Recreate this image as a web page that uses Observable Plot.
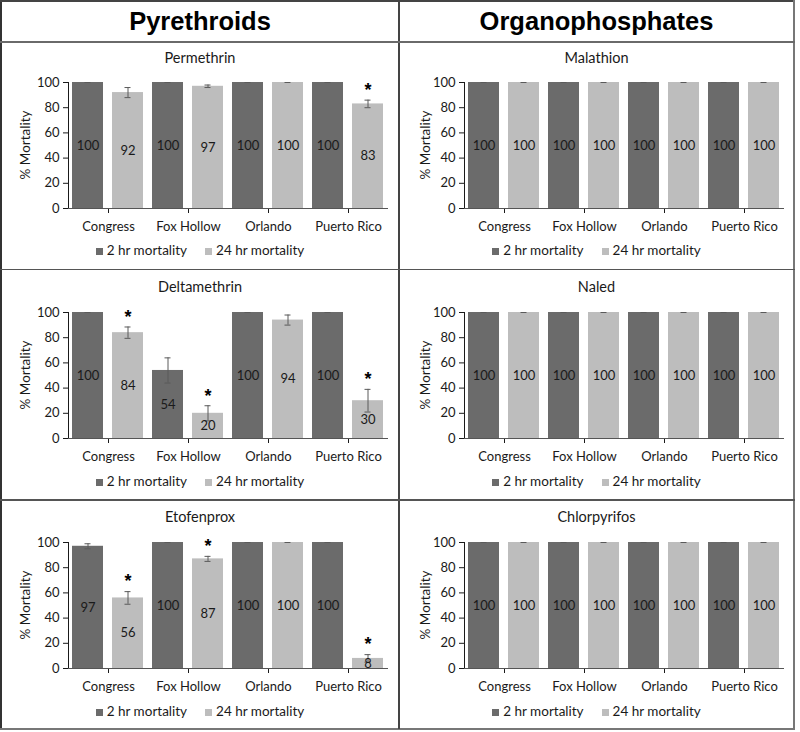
<!DOCTYPE html>
<html>
<head>
<meta charset="utf-8">
<script src="https://cdn.jsdelivr.net/npm/d3@7"></script>
<script src="https://cdn.jsdelivr.net/npm/@observablehq/plot@0.6"></script>
<style>
  body { margin: 0; background: #fff; font-family: Lato, "Noto Sans", sans-serif; }
  #page { position: absolute; left: 0; top: 0; width: 800px; height: 732px; overflow: hidden; }
  .hline, .vline { position: absolute; background: #555; }
  .header { position: absolute; top: 1px; height: 40px; display: flex; align-items: center; justify-content: center;
            font: bold 25.5px "Liberation Sans", Arial, sans-serif; color: #000; }
  .panel { position: absolute; }
  .ptitle { position: absolute; left: 0; right: 0; text-align: center; font-size: 14.5px; line-height: 20px; color: #1a1a1a; }
  .plot { position: absolute; left: 0; }
  .ylabel { position: absolute; white-space: nowrap; font-size: 13.5px; line-height: 15px; color: #1a1a1a;
            transform: translate(-50%, -50%) rotate(-90deg); }
  .legend { position: absolute; left: 0; right: 0; text-align: center; font-size: 13.5px; line-height: 18px; color: #1a1a1a; }
  .legend .sw { display: inline-block; width: 7px; height: 7px; margin-right: 4px; vertical-align: 0px; }
  .legend .item { margin: 0 9px; }
</style>
</head>
<body>
<div id="page"></div>
<script>
// ---------------- data ----------------
const classes = ["Pyrethroids", "Organophosphates"];
const sites = ["Congress", "Fox Hollow", "Orlando", "Puerto Rico"];
const seriesNames = ["2 hr mortality", "24 hr mortality"];
const seriesColors = ["#6b6b6b", "#bdbdbd"];
const yTicks = [0, 20, 40, 60, 80, 100];
const yLabel = "% Mortality";

const permethrin2h = [100, 100, 100, 100];
const permethrin24h = [92, 97, 100, 83];
const permethrinErr2h = [0, 0, 0, 0];
const permethrinErr24h = [4, 1, 0, 3];
const permethrinSig24h = [false, false, false, true];

const deltamethrin2h = [100, 54, 100, 100];
const deltamethrin24h = [84, 20, 94, 30];
const deltamethrinErr2h = [0, 10, 0, 0];
const deltamethrinErr24h = [4.5, 6, 4, 9];
const deltamethrinSig24h = [true, true, false, true];

const etofenprox2h = [97, 100, 100, 100];
const etofenprox24h = [56, 87, 100, 8];
const etofenproxErr2h = [2, 0, 0, 0];
const etofenproxErr24h = [5, 2, 0, 3];
const etofenproxSig24h = [true, true, false, true];

const malathion2h = [100, 100, 100, 100];
const malathion24h = [100, 100, 100, 100];
const naled2h = [100, 100, 100, 100];
const naled24h = [100, 100, 100, 100];
const chlorpyrifos2h = [100, 100, 100, 100];
const chlorpyrifos24h = [100, 100, 100, 100];
const zeroErr = [0, 0, 0, 0];
const noSig = [false, false, false, false];

const panels = [
  {name: "Permethrin", col: 0, row: 0, v2: permethrin2h, v24: permethrin24h, e2: permethrinErr2h, e24: permethrinErr24h, s24: permethrinSig24h},
  {name: "Deltamethrin", col: 0, row: 1, v2: deltamethrin2h, v24: deltamethrin24h, e2: deltamethrinErr2h, e24: deltamethrinErr24h, s24: deltamethrinSig24h},
  {name: "Etofenprox", col: 0, row: 2, v2: etofenprox2h, v24: etofenprox24h, e2: etofenproxErr2h, e24: etofenproxErr24h, s24: etofenproxSig24h},
  {name: "Malathion", col: 1, row: 0, v2: malathion2h, v24: malathion24h, e2: zeroErr, e24: zeroErr, s24: noSig},
  {name: "Naled", col: 1, row: 1, v2: naled2h, v24: naled24h, e2: zeroErr, e24: zeroErr, s24: noSig},
  {name: "Chlorpyrifos", col: 1, row: 2, v2: chlorpyrifos2h, v24: chlorpyrifos24h, e2: zeroErr, e24: zeroErr, s24: noSig}
];

// ---------------- layout ----------------
const page = document.getElementById("page");
function line(cls, l, t, w, h, color) {
  const d = document.createElement("div");
  d.className = cls;
  Object.assign(d.style, {left: l + "px", top: t + "px", width: w + "px", height: h + "px"});
  if (color) d.style.background = color;
  page.appendChild(d);
}
// frame and dividers
line("vline", 0, 0, 2, 730, "#333");
line("hline", 0, 0, 795, 1.5, "#444");
line("vline", 793, 0, 2, 730, "#777");
line("hline", 0, 727.5, 795, 2, "#777");
line("vline", 398, 0, 1.5, 729, "#444");
line("hline", 0, 41, 795, 1.5, "#6a6a6a");
line("hline", 0, 268.5, 795, 1.5, "#555");
line("hline", 0, 499, 795, 1.5, "#555");

const colGeom = [{x: 2, w: 396, ml: 65, mr: 10, yl: 23}, {x: 400, w: 393, ml: 63, mr: 8, yl: 25}];
const rowGeom = [
  {top: 42, h: 226, title: 16, y100: 40, legend: 208},
  {top: 270, h: 229, title: 17, y100: 42, legend: 211},
  {top: 500, h: 228, title: 17, y100: 42, legend: 211}
];

classes.forEach((c, i) => {
  const h = document.createElement("div");
  h.className = "header";
  h.style.left = colGeom[i].x + "px";
  h.style.width = colGeom[i].w + "px";
  h.textContent = c;
  page.appendChild(h);
});

const marginTop = 10;
const plotH = 126;
const marginBottom = 32;

panels.forEach(p => {
  const cg = colGeom[p.col], rg = rowGeom[p.row];
  const panel = document.createElement("div");
  panel.className = "panel";
  Object.assign(panel.style, {left: cg.x + "px", top: rg.top + "px", width: cg.w + "px", height: rg.h + "px"});
  page.appendChild(panel);

  const t = document.createElement("div");
  t.className = "ptitle";
  t.style.top = (rg.title - 10) + "px";
  t.textContent = p.name;
  panel.appendChild(t);

  const rows = [];
  sites.forEach((s, i) => {
    rows.push({site: s, series: seriesNames[0], value: p.v2[i], err: p.e2[i], sig: false});
    rows.push({site: s, series: seriesNames[1], value: p.v24[i], err: p.e24[i], sig: p.s24[i]});
  });

  const chart = Plot.plot({
    width: cg.w,
    height: marginTop + plotH + marginBottom,
    marginTop,
    marginBottom,
    marginLeft: cg.ml,
    marginRight: cg.mr,
    style: {fontFamily: "Lato, 'Noto Sans', sans-serif", fontSize: "13px", color: "#1a1a1a", background: "transparent"},
    facet: {data: rows, x: "site"},
    fx: {domain: sites, padding: 0, axis: "bottom", label: null, tickSize: 5, tickPadding: 8},
    x: {domain: seriesNames, axis: null, paddingInner: 0.22, paddingOuter: 0.11},
    y: {domain: [0, 100], ticks: yTicks, tickSize: 5, tickPadding: 4, line: true, label: null},
    color: {domain: seriesNames, range: seriesColors},
    marks: [
      Plot.barY(rows, {x: "series", y: "value", fill: "series"}),
      Plot.ruleX(rows, {x: "series", y1: d => d.value - d.err, y2: d => d.value + d.err, stroke: "#5a5a5a", strokeWidth: 1}),
      Plot.tickY(rows, {x: "series", y: d => d.value + d.err, stroke: "#5a5a5a", strokeWidth: 1, insetLeft: 12.5, insetRight: 12.5}),
      Plot.tickY(rows, {x: "series", y: d => d.value - d.err, stroke: "#5a5a5a", strokeWidth: 1, insetLeft: 12.5, insetRight: 12.5, filter: d => d.err > 0}),
      Plot.text(rows, {x: "series", y: d => d.value / 2, text: d => String(d.value), fill: "#1a1a1a", fontSize: 13}),
      Plot.text(rows, {filter: d => d.sig, x: "series", y: d => d.value + d.err, text: () => "*", fill: "#000",
        fontSize: 18, fontWeight: "bold", fontFamily: "'Liberation Sans', Arial, sans-serif", dy: -10}),
      Plot.ruleY([0], {stroke: "#555", strokeWidth: 1})
    ]
  });
  chart.classList.add("plot");
  chart.style.top = (rg.y100 - marginTop) + "px";
  panel.appendChild(chart);

  const yl = document.createElement("div");
  yl.className = "ylabel";
  yl.style.left = cg.yl + "px";
  yl.style.top = (rg.y100 + plotH / 2) + "px";
  yl.textContent = yLabel;
  panel.appendChild(yl);

  const lg = document.createElement("div");
  lg.className = "legend";
  lg.style.top = (rg.legend - 9) + "px";
  lg.innerHTML = seriesNames.map((s, i) =>
    `<span class="item"><span class="sw" style="background:${seriesColors[i]}"></span>${s}</span>`).join("");
  panel.appendChild(lg);
});
</script>
</body>
</html>
